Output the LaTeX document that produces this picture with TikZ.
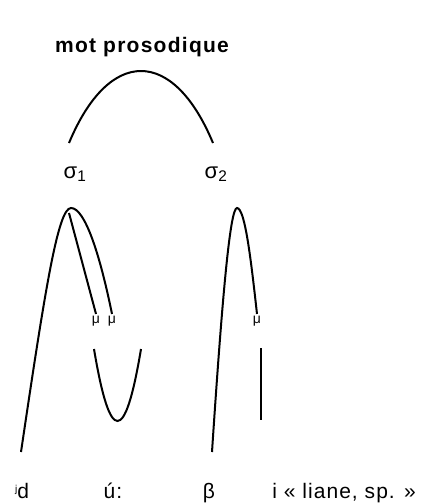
\documentclass[tikz,border=0pt]{standalone}
\usepackage{fontspec}
\setmainfont{Liberation Sans}
\usetikzlibrary{positioning}

\begin{document}
\begin{tikzpicture}[x=1pt, y=-1pt, line width=2pt,
    every node/.style={align=center, inner sep=1pt},
    sylnode/.style={font=\fontsize{22}{24}\selectfont},
    moranode/.style={font=\fontsize{14}{15}\selectfont},
    segnode/.style={anchor=base, font=\fontsize{21}{23}\selectfont\addfontfeature{LetterSpace=5}}]
    \useasboundingbox (0,0) rectangle (440,504);

    \node[font=\fontsize{21}{23}\selectfont\bfseries\addfontfeature{LetterSpace=6}] (title) at (142,47) {mot prosodique};

    \node[sylnode] (s1) at (75,174) {σ\textsubscript{1}};
    \node[sylnode] (s2) at (216,174) {σ\textsubscript{2}};

    \node[moranode] (mu1) at (96,321) {μ};
    \node[moranode] (mu2) at (112,321) {μ};
    \node[moranode] (mu3) at (257,321) {μ};

    \node[segnode] (jd) at (22,498) {\raisebox{6pt}{\fontsize{10}{10}\selectfont j}d};
    \node[segnode] (u) at (113,498) {ú:};
    \node[segnode] (beta) at (209,498) {β};
    \node[segnode] (gloss) at (344,498) {i « liane, sp. »};

    \coordinate (archL) at (69,143);
    \coordinate (archR) at (213,143);
    \coordinate (peak1) at (71,208);
    \coordinate (split1) at (69,213);
    \coordinate (peak2) at (237,208);
    \coordinate (jdend) at (21,452);
    \coordinate (betaend) at (212,452);
    \coordinate (uL) at (94,349);
    \coordinate (uR) at (141,349);
    \coordinate (itop) at (261,348);
    \coordinate (ibot) at (261,420);

    \draw (archL) .. controls (109,47) and (173,47) .. (archR);

    \draw (jdend) .. controls (45,290) and (58,208) .. (peak1)
                  .. controls (85,208) and (100,255) .. (mu2.north);
    \draw (split1) -- (mu1.north);
    \draw (uL) .. controls (110,445) and (125,445) .. (uR);

    \draw (betaend) .. controls (222,300) and (230,208) .. (peak2)
                    .. controls (245,208) and (251,260) .. (mu3.north);
    \draw (itop) -- (ibot);
\end{tikzpicture}
\end{document}
